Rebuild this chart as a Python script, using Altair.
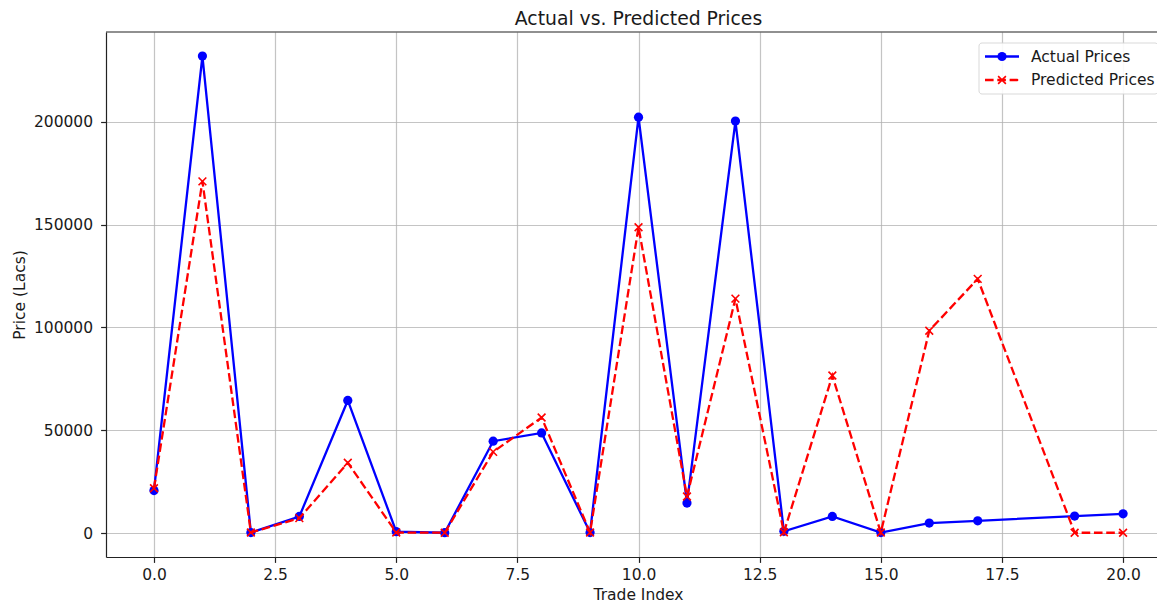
import altair as alt
import pandas as pd

trade_index = [0, 1, 2, 3, 4, 5, 6, 7, 8, 9, 10, 11, 12, 13, 14, 15, 16, 17, 19, 20]
actual_prices = [20700, 231900, 300, 8100, 64500, 700, 200, 44700, 48700, 300, 202200,
                 14600, 200300, 900, 8100, 300, 4900, 6000, 8300, 9400]
predicted_prices = [21800, 171000, 300, 7300, 34200, 300, 200, 39500, 56200, 300, 148700,
                    17800, 114000, 400, 76600, 300, 98400, 123600, 200, 200]
series_names = ["Actual Prices", "Predicted Prices"]
series_colors = ["#0000ff", "#ff0000"]
x_ticks = [0, 2.5, 5, 7.5, 10, 12.5, 15, 17.5, 20]
y_ticks = [0, 50000, 100000, 150000, 200000]

W, H = 1051, 525
FONT = "DejaVu Sans"
TXT = "#1a1a1a"
FS = 15.5
LW = 2.3
DASH = [8.6, 3.7]

df = pd.DataFrame({
    "idx": trade_index * 2,
    "price": actual_prices + predicted_prices,
    "series": [series_names[0]] * len(trade_index) + [series_names[1]] * len(trade_index),
})

xs = alt.Scale(domain=[-0.99, 20.70], nice=False, zero=False)
ys = alt.Scale(domain=[-11600, 243600], nice=False, zero=False)
x_axis = alt.Axis(values=x_ticks, format=".1f", title="Trade Index", titleX=532, titleY=42,
                  titleBaseline="alphabetic", titleAlign="center", labelPadding=5)
y_axis = alt.Axis(values=y_ticks, format="d", title="Price (Lacs)", titleX=-82, titleY=H / 2,
                  titleAngle=270, titleBaseline="alphabetic", titleAlign="center", labelPadding=8)

base = alt.Chart(df)
X = alt.X("idx:Q", scale=xs, axis=x_axis)
Y = alt.Y("price:Q", scale=ys, axis=y_axis)

act = base.transform_filter(alt.datum.series == series_names[0])
pred = base.transform_filter(alt.datum.series == series_names[1])

XPATH = "M-1,-1L1,1M1,-1L-1,1"
act_line = act.mark_line(color=series_colors[0], strokeWidth=LW).encode(x=X, y=Y)
act_pts = act.mark_point(shape="circle", filled=True, color=series_colors[0], size=85, opacity=1).encode(x=X, y=Y)
pred_line = pred.mark_line(color=series_colors[1], strokeWidth=LW, strokeDash=DASH).encode(x=X, y=Y)
pred_pts = pred.mark_point(shape=XPATH, filled=False, color=series_colors[1], size=60,
                           strokeWidth=1.6, opacity=1).encode(x=X, y=Y)

one = pd.DataFrame({"a": [0]})
deco = alt.Chart(one)
top_spine = deco.mark_rule(color="#222222", strokeWidth=1.2).encode(
    x=alt.value(0), x2=alt.value(W), y=alt.value(0))

# legend (decoration)
LX0, LX1, LY0, LY1 = 873, 1052, 11, 62
leg_box = deco.mark_rect(fill="white", stroke="#d5d5d5", strokeWidth=1, cornerRadius=3, opacity=0.9).encode(
    x=alt.value(LX0), x2=alt.value(LX1), y=alt.value(LY0), y2=alt.value(LY1))
r1, r2 = 24.5, 48
leg_l1 = deco.mark_rule(color=series_colors[0], strokeWidth=LW).encode(
    x=alt.value(879), x2=alt.value(913), y=alt.value(r1))
leg_p1 = deco.mark_point(shape="circle", filled=True, color=series_colors[0], size=85, opacity=1).encode(
    x=alt.value(896), y=alt.value(r1))
leg_l2 = deco.mark_rule(color=series_colors[1], strokeWidth=LW, strokeDash=DASH).encode(
    x=alt.value(879), x2=alt.value(913), y=alt.value(r2))
leg_p2 = deco.mark_point(shape=XPATH, filled=False, color=series_colors[1], size=60, strokeWidth=1.6,
                         opacity=1).encode(x=alt.value(896), y=alt.value(r2))
leg_t1 = deco.mark_text(align="left", baseline="middle", font=FONT, fontSize=FS, color=TXT).encode(
    x=alt.value(925), y=alt.value(r1), text=alt.value(series_names[0]))
leg_t2 = deco.mark_text(align="left", baseline="middle", font=FONT, fontSize=FS, color=TXT).encode(
    x=alt.value(925), y=alt.value(r2), text=alt.value(series_names[1]))

chart = alt.layer(
    act_line, act_pts, pred_line, pred_pts, top_spine,
    leg_box, leg_l1, leg_p1, leg_l2, leg_p2, leg_t1, leg_t2,
).properties(
    width=W, height=H,
    autosize=alt.AutoSizeParams(type="none"),
    padding={"left": 98, "top": 24, "right": 0, "bottom": 46},
    title=alt.TitleParams("Actual vs. Predicted Prices", font=FONT, fontSize=18.8, fontWeight="normal",
                          color=TXT, anchor="middle", dx=7, offset=3),
).configure_view(stroke=None).configure_axis(
    labelFont=FONT, labelFontSize=FS, labelColor=TXT, titleFont=FONT, titleFontSize=FS,
    titleFontWeight="normal", titleColor=TXT, domainColor="#222222", domainWidth=1.2,
    tickColor="#222222", tickSize=5.4, tickWidth=1.2,
    grid=True, gridColor="#b0b0b0", gridWidth=1.2, gridOpacity=0.75,
)

chart.save("out.html", embed_options={"renderer": "svg", "actions": False})
